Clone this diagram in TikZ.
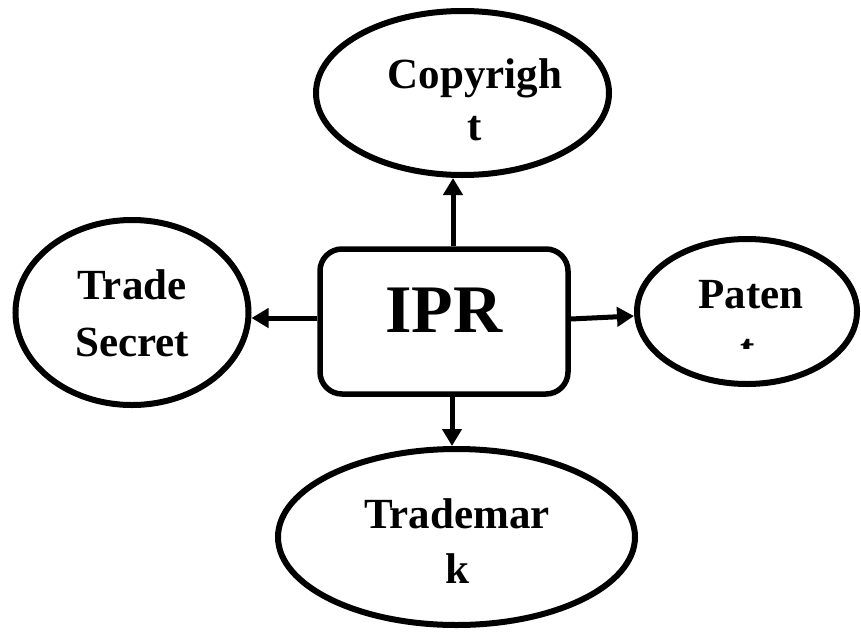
\documentclass[tikz,border=0pt]{standalone}
\usepackage{fontspec}
\setmainfont{Liberation Serif}
\usetikzlibrary{shapes.geometric,arrows.meta}
\tikzset{
  ell/.style={draw, ellipse, line width=6pt, inner sep=0pt},
  word/.style={inner sep=0pt, align=center, font=\fontsize{43pt}{52pt}\selectfont\bfseries},
  link/.style={line width=5pt, -{Triangle[length=17pt,width=19pt]}}
}
\begin{document}
\begin{tikzpicture}[x=1pt,y=-1pt]
  \useasboundingbox (0,0) rectangle (861,637);
  % centre box
  \node[draw, line width=5.5pt, rounded corners=22pt, minimum width=248pt, minimum height=145pt,
        inner sep=0pt, text depth=23pt, font=\fontsize{68pt}{68pt}\selectfont\bfseries] (ipr) at (444,321.5) {IPR};
  %
  \node[ell, minimum width=293pt, minimum height=164pt] (cpy) at (462.5,93) {};
  \node[ell, minimum width=233pt, minimum height=185pt] (trs) at (132,312.5) {};
  \node[ell, minimum width=220pt, minimum height=145pt] (pat) at (747,311.5) {};
  \node[ell, minimum width=357pt, minimum height=176pt] (tdm) at (456.5,537) {};
  %
  \node[word] (cpytxt) at (475,99.5) {Copyrigh\\t};
  \node[word] (trstxt) at (132,313) {Trade\\[5pt]Secret};
  \node[word] (tdmtxt) at (457,541.5) {Trademar\\[3pt]k};
  \node[word, anchor=base] (pattxt) at (751,308) {Paten};
  \begin{scope}
    \clip (720,330) rectangle (780,348);
    \node[word, anchor=base] (patt) at (748,363) {t};
  \end{scope}
  %
  \draw[link] ([xshift=9pt]ipr.north) -- ([xshift=9pt]ipr.north |- cpy.south);
  \draw[link] ([xshift=8pt]ipr.south) -- ([xshift=8pt]ipr.south |- tdm.north);
  \draw[link] ([yshift=3.5pt]ipr.west) -- ([yshift=3.5pt]ipr.west -| trs.east);
  \draw[link] ([yshift=2.5pt]ipr.east) -- ([yshift=-4.5pt]pat.west);
\end{tikzpicture}
\end{document}
